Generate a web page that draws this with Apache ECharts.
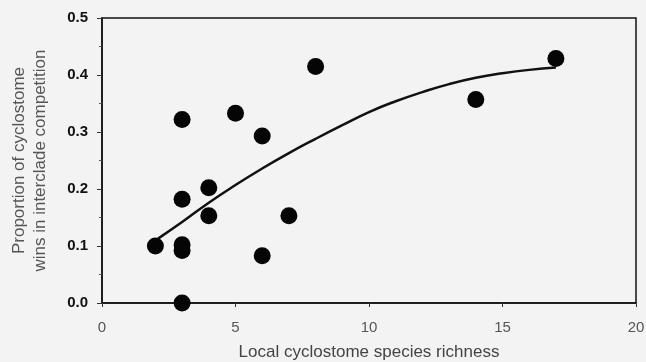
<!DOCTYPE html>
<html>
<head>
<meta charset="utf-8">
<script src="https://cdn.jsdelivr.net/npm/echarts@6/dist/echarts.min.js"></script>
<style>
  html, body { margin: 0; padding: 0; background: #f3f3f3; }
  #chart { width: 646px; height: 362px; }
</style>
</head>
<body>
<div id="chart"></div>
<script>
// Observed points
const richness = [2, 3, 3, 3, 3, 3, 4, 4, 5, 6, 6, 7, 8, 14, 17];
const winProportion = [0.10, 0.322, 0.182, 0.102, 0.092, 0.0, 0.202, 0.153, 0.333, 0.293, 0.083, 0.153, 0.415, 0.357, 0.429];

// Fitted curve
const fitX = [2.1, 3, 4, 5, 6, 7, 8, 9, 10, 11, 12, 13, 14, 15, 16, 17];
const fitY = [0.113, 0.142, 0.176, 0.207, 0.236, 0.263, 0.288, 0.312, 0.335, 0.354, 0.370, 0.384, 0.395, 0.403, 0.409, 0.413];

const xAxisTitle = 'Local cyclostome species richness';
const yAxisTitle = 'Proportion of cyclostome\nwins in interclade competition';

const chart = echarts.init(document.getElementById('chart'), null, { renderer: 'canvas' });

const points = richness.map((x, i) => [x, winProportion[i]]);
const fit = fitX.map((x, i) => [x, fitY[i]]);

chart.setOption({
  backgroundColor: '#f3f3f3',
  animation: false,
  grid: {
    left: 102, right: 10, top: 18, bottom: 59,
    outerBoundsMode: 'none', containLabel: false,
    show: true, borderColor: '#111', borderWidth: 1.5, backgroundColor: 'transparent'
  },
  xAxis: {
    type: 'value', min: 0, max: 20, interval: 5,
    name: xAxisTitle, nameLocation: 'middle', nameGap: 41,
    nameTextStyle: { fontFamily: 'Liberation Sans', fontSize: 17, color: '#444' },
    axisLine: { show: true, onZero: false, lineStyle: { color: '#111', width: 1.5 } },
    axisTick: { show: true, length: 4, lineStyle: { color: '#333', width: 1 } },
    axisLabel: { fontFamily: 'Liberation Sans', fontSize: 15, color: '#555', margin: 17 },
    splitLine: { show: false }
  },
  yAxis: {
    type: 'value', min: 0, max: 0.5, interval: 0.1,
    name: yAxisTitle, nameLocation: 'middle', nameGap: 51, nameRotate: 90,
    nameTextStyle: { fontFamily: 'Liberation Sans', fontSize: 17, color: '#555', lineHeight: 21 },
    axisLine: { show: true, onZero: false, lineStyle: { color: '#111', width: 1.5 } },
    axisTick: { show: true, length: 5, lineStyle: { color: '#333', width: 1 } },
    minorTick: { show: true, splitNumber: 2, length: 3, lineStyle: { color: '#555', width: 1 } },
    axisLabel: {
      fontFamily: 'Liberation Sans', fontSize: 15, fontWeight: 'bold', color: '#111', margin: 14,
      formatter: v => v.toFixed(1)
    },
    splitLine: { show: false }
  },
  series: [
    {
      type: 'line', data: fit, smooth: true, symbol: 'none',
      lineStyle: { color: '#111', width: 2.5 }, z: 2
    },
    {
      type: 'scatter', data: points, symbol: 'circle', symbolSize: 17,
      itemStyle: { color: '#050505', opacity: 1 }, z: 3
    }
  ]
});
</script>
</body>
</html>
